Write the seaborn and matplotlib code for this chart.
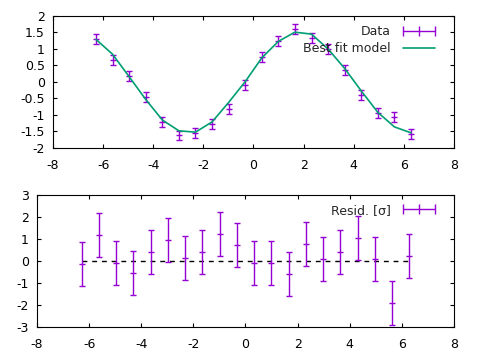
import numpy as np
import matplotlib
matplotlib.use("Agg")
import matplotlib.pyplot as plt
from matplotlib.lines import Line2D
from matplotlib.ticker import FuncFormatter, MultipleLocator
import seaborn as sns

PURPLE = "#9400d3"
TEAL = "#009e73"

X = [-6.283, -5.622, -4.961, -4.299, -3.638, -2.976, -2.315, -1.653, -0.992, -0.331,
     0.331, 0.992, 1.653, 2.315, 2.976, 3.638, 4.299, 4.961, 5.622, 6.283]
DATA = [1.31, 0.66, 0.17, -0.45, -1.21, -1.62, -1.54, -1.27, -0.81, -0.10,
        0.75, 1.25, 1.61, 1.33, 0.99, 0.35, -0.40, -0.93, -1.07, -1.57]
DATA_ERR = [0.15] * 20
MODEL = [1.29, 0.84, 0.16, -0.53, -1.15, -1.48, -1.52, -1.21, -0.62, 0.01,
         0.73, 1.23, 1.51, 1.45, 1.00, 0.41, -0.27, -0.92, -1.36, -1.54]
RESID = [-0.13, 1.18, -0.10, -0.56, 0.41, 0.95, 0.13, 0.41, 1.24, 0.72,
         -0.10, -0.10, -0.60, 0.78, 0.08, 0.41, 1.04, 0.08, -1.93, 0.22]
RESID_ERR = [1.0] * 20
ZERO = [0.0] * 20

FONT_SIZE = 9

sns.set_theme(style="ticks")
plt.rcParams["font.family"] = ["DejaVu Sans"]
plt.rcParams["axes.unicode_minus"] = False

fig = plt.figure(figsize=(4.8, 3.6), dpi=100)
ax1 = fig.add_axes([0.1104, 0.5889, 0.8354, 0.3667])
ax2 = fig.add_axes([0.0771, 0.0917, 0.8687, 0.3667])

fmt = FuncFormatter(lambda v, p: "%g" % v)


def style_axes(ax):
    for sp in ax.spines.values():
        sp.set_linewidth(0.8)
        sp.set_color("black")
    ax.tick_params(direction="in", top=True, right=True, length=3, width=0.8,
                   labelsize=FONT_SIZE, colors="black", pad=6)
    ax.tick_params(axis="x", pad=8)
    ax.xaxis.set_major_locator(MultipleLocator(2))
    ax.set_xlim(-8, 8)
    ax.xaxis.set_major_formatter(fmt)
    ax.yaxis.set_major_formatter(fmt)
    ax.set_xlabel("")
    ax.set_ylabel("")


# top panel: data with best fit model
ax1.errorbar(X, DATA, yerr=DATA_ERR, fmt="none", ecolor=PURPLE, elinewidth=1.0,
             capsize=2.5, capthick=1.0, zorder=3)
sns.scatterplot(x=X, y=DATA, ax=ax1, marker="_", s=25, color=PURPLE,
                linewidth=1.0, zorder=3)
sns.lineplot(x=X, y=MODEL, ax=ax1, color=TEAL, linewidth=1.2, zorder=4)
ax1.set_ylim(-2, 2)
ax1.yaxis.set_major_locator(MultipleLocator(0.5))
style_axes(ax1)

h_data = Line2D([], [], color=PURPLE, lw=1.0, marker="|", markersize=7,
                markeredgewidth=1.0)
h_model = Line2D([], [], color=TEAL, lw=1.2)
ax1.legend([h_data, h_model], ["Data", "Best fit model"], loc="upper right",
           bbox_to_anchor=(0.963, 0.93), frameon=False, markerfirst=False,
           numpoints=3, handlelength=3.2, handletextpad=0.65, borderpad=0,
           borderaxespad=0, labelspacing=0.3, fontsize=FONT_SIZE)

# bottom panel: residuals
sns.lineplot(x=X, y=ZERO, ax=ax2, color="black", linewidth=1.0,
             dashes=False, zorder=2).lines[0].set_dashes((3.5, 3.5))
ax2.errorbar(X, RESID, yerr=RESID_ERR, fmt="none", ecolor=PURPLE, elinewidth=1.0,
             capsize=2.5, capthick=1.0, zorder=3)
sns.scatterplot(x=X, y=RESID, ax=ax2, marker="_", s=25, color=PURPLE,
                linewidth=1.0, zorder=3)
ax2.set_ylim(-3, 3)
ax2.yaxis.set_major_locator(MultipleLocator(1))
style_axes(ax2)

h_res = Line2D([], [], color=PURPLE, lw=1.0, marker="|", markersize=7,
               markeredgewidth=1.0)
ax2.legend([h_res], ["Resid. [σ]"], loc="upper right",
           bbox_to_anchor=(0.964, 0.935), frameon=False, markerfirst=False,
           numpoints=3, handlelength=3.2, handletextpad=0.65, borderpad=0,
           borderaxespad=0, fontsize=FONT_SIZE)

fig.savefig("out.png", dpi=100)
